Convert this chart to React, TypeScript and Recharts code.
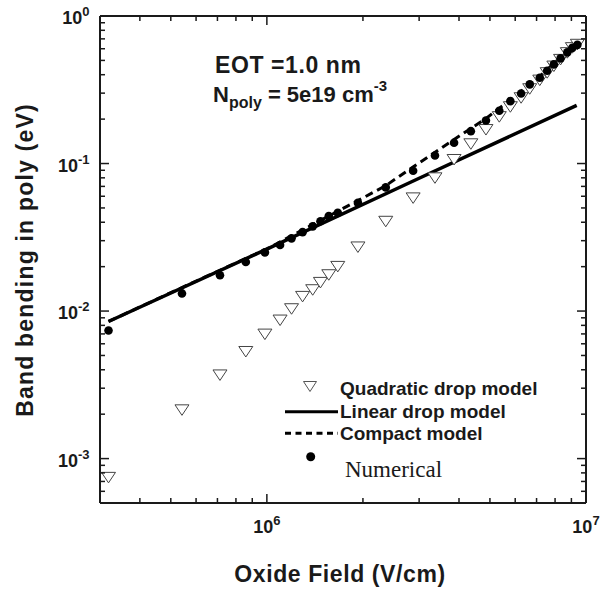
import React from 'react';
import { ComposedChart, XAxis, YAxis, Line, Scatter, Legend, Customized } from 'recharts';

// Oxide field (V/cm) of the symbol points
const fieldPoints = [
  3.19e5, 5.42e5, 7.13e5, 8.59e5, 9.86e5, 1.1e6, 1.195e6, 1.294e6, 1.392e6, 1.472e6,
  1.563e6, 1.668e6, 1.929e6, 2.358e6, 2.873e6, 3.363e6, 3.86e6, 4.357e6, 4.858e6, 5.349e6,
  5.794e6, 6.261e6, 6.663e6, 7.164e6, 7.557e6, 7.93e6, 8.324e6, 8.738e6, 9.063e6, 9.395e6,
];
// Quadratic drop model (eV)
const quadraticDrop = [
  7.46e-4, 2.14e-3, 3.69e-3, 5.32e-3, 6.98e-3, 8.69e-3, 1.037e-2, 1.257e-2, 1.395e-2, 1.564e-2,
  1.763e-2, 2.008e-2, 2.72e-2, 4.06e-2, 5.85e-2, 8.0e-2, 0.1065, 0.1361, 0.17, 0.2078,
  0.2427, 0.2793, 0.3214, 0.3677, 0.4129, 0.4577, 0.508, 0.5642, 0.61, 0.643,
];
// Numerical (eV)
const numerical = [
  7.39e-3, 1.317e-2, 1.75e-2, 2.151e-2, 2.498e-2, 2.805e-2, 3.11e-2, 3.428e-2, 3.752e-2, 4.058e-2,
  4.401e-2, 4.627e-2, 5.41e-2, 6.89e-2, 8.94e-2, 0.1133, 0.1382, 0.1657, 0.1958, 0.2279,
  0.2648, 0.2986, 0.3439, 0.3818, 0.4259, 0.47, 0.5163, 0.5671, 0.6083, 0.6375,
];
// Linear drop model
const linearField = [3.19e5, 1e6, 3e6, 9.35e6];
const linearDrop = [8.5e-3, 2.63e-2, 7.95e-2, 0.2478];
// Compact model
const compactField = [3.19e5, 5.42e5, 1e6, 1.39e6, 1.93e6, 2.36e6, 2.87e6, 3.86e6, 4.86e6, 5.79e6, 7.16e6, 8.32e6, 9.4e6];
const compactModel = [8.5e-3, 1.443e-2, 2.64e-2, 3.85e-2, 5.61e-2, 7.09e-2, 9.47e-2, 0.1455, 0.2021, 0.2698, 0.3895, 0.5245, 0.653];

const xTicks = [4e5, 5e5, 6e5, 7e5, 8e5, 9e5, 1e6, 2e6, 3e6, 4e6, 5e6, 6e6, 7e6, 8e6, 9e6, 1e7];
const yTicks = [
  6e-4, 7e-4, 8e-4, 9e-4, 1e-3, 2e-3, 3e-3, 4e-3, 5e-3, 6e-3, 7e-3, 8e-3, 9e-3,
  1e-2, 2e-2, 3e-2, 4e-2, 5e-2, 6e-2, 7e-2, 8e-2, 9e-2, 0.1, 0.2, 0.3, 0.4, 0.5, 0.6, 0.7, 0.8, 0.9, 1,
];
const xDomain = [3e5, 1e7];
const yDomain = [5e-4, 1];

const seriesNames = ['Quadratic drop model', 'Linear drop model', 'Compact model', 'Numerical'];
const xTitle = 'Oxide Field (V/cm)';
const yTitle = 'Band bending in poly (eV)';

const FONT = "Arial, 'Liberation Sans', Helvetica, sans-serif";
const SERIF = "'Times New Roman', 'Liberation Serif', Times, serif";
const INK = '#1a1a1a';

const quadData = fieldPoints.map((x, i) => ({ x, y: quadraticDrop[i] }));
const numData = fieldPoints.map((x, i) => ({ x, y: numerical[i] }));
const linData = linearField.map((x, i) => ({ x, y: linearDrop[i] }));
const compData = compactField.map((x, i) => ({ x, y: compactModel[i] }));

const isMajor = (v: number) => {
  const l = Math.log10(v);
  return Math.abs(l - Math.round(l)) < 1e-6;
};
const expOf = (v: number) => String(Math.round(Math.log10(v)));

const PowLabel = ({ x, y, exp, anchor }: any) => (
  <text x={x} y={y} textAnchor={anchor} fontFamily={FONT} fontWeight="bold" fontSize={18} fill={INK}>
    10
    <tspan dy={-8} fontSize={13}>
      {exp}
    </tspan>
  </text>
);

const BottomTick = (p: any) => {
  const { x, y, payload } = p;
  const major = isMajor(payload.value);
  return (
    <g>
      <line x1={x} x2={x} y1={y} y2={y - (major ? 9 : 5)} stroke={INK} strokeWidth={1.5} />
      {major && <PowLabel x={x} y={y + 30} exp={expOf(payload.value)} anchor="middle" />}
    </g>
  );
};
const TopTick = (p: any) => {
  const { x, y, payload } = p;
  const major = isMajor(payload.value);
  return <line x1={x} x2={x} y1={y} y2={y + (major ? 9 : 5)} stroke={INK} strokeWidth={1.5} />;
};
const LeftTick = (p: any) => {
  const { x, y, payload } = p;
  const major = isMajor(payload.value);
  return (
    <g>
      <line x1={x} x2={x + (major ? 9 : 5)} y1={y} y2={y} stroke={INK} strokeWidth={1.5} />
      {major && <PowLabel x={x - 10.5} y={y + 8} exp={expOf(payload.value)} anchor="end" />}
    </g>
  );
};
const RightTick = (p: any) => {
  const { x, y, payload } = p;
  const major = isMajor(payload.value);
  return <line x1={x} x2={x - (major ? 9 : 5)} y1={y} y2={y} stroke={INK} strokeWidth={1.5} />;
};

const Triangle = (p: any) => {
  const { cx, cy } = p;
  if (cx == null || cy == null) return null;
  return (
    <polygon
      points={`${cx - 7},${cy - 5} ${cx + 7},${cy - 5} ${cx},${cy + 5.5}`}
      fill="#fff"
      stroke="#444"
      strokeWidth={1}
    />
  );
};
const Dot = (p: any) => {
  const { cx, cy } = p;
  if (cx == null || cy == null) return null;
  return <circle cx={cx} cy={cy} r={4.3} fill="#000" />;
};

const LegendContent = () => (
  <svg width={608} height={591} style={{ position: 'absolute', left: 0, top: 0 }}>
    <polygon points="303.5,381.5 316.5,381.5 310,391.5" fill="#fff" stroke="#555" strokeWidth={1} />
    <text x={340} y={395} fontFamily={FONT} fontWeight="bold" fontSize={19} fill={INK}>
      {seriesNames[0]}
    </text>
    <line x1={285} x2={338} y1={411.7} y2={411.7} stroke="#000" strokeWidth={3} />
    <text x={340} y={418} fontFamily={FONT} fontWeight="bold" fontSize={19} fill={INK}>
      {seriesNames[1]}
    </text>
    <line x1={285} x2={338} y1={433.3} y2={433.3} stroke="#000" strokeWidth={3} strokeDasharray="6 4.5" />
    <text x={340} y={440} fontFamily={FONT} fontWeight="bold" fontSize={19} fill={INK}>
      {seriesNames[2]}
    </text>
    <circle cx={310.7} cy={456.7} r={4.5} fill="#000" />
    <text x={345} y={477} fontFamily={SERIF} fontSize={23} fill={INK}>
      {seriesNames[3]}
    </text>
  </svg>
);

const Annotations = () => (
  <g fill={INK}>
    <text x={215} y={73} fontFamily={FONT} fontWeight="bold" fontSize={23} letterSpacing={0.6}>
      EOT =1.0 nm
    </text>
    <text x={213} y={102} fontFamily={FONT} fontWeight="bold" fontSize={22}>
      N
      <tspan fontSize={16} dy={6}>
        poly
      </tspan>
      <tspan dy={-6}> = 5e19 cm</tspan>
      <tspan fontSize={15} dy={-11}>
        -3
      </tspan>
    </text>
    <text
      x={33}
      y={260}
      transform="rotate(-90, 33, 260)"
      textAnchor="middle"
      fontFamily={FONT}
      fontWeight="bold"
      fontSize={23}
      letterSpacing={1.2}
    >
      {yTitle}
    </text>
    <text x={340} y={582} textAnchor="middle" fontFamily={FONT} fontWeight="bold" fontSize={23} letterSpacing={0.6}>
      {xTitle}
    </text>
  </g>
);

const axisLineStyle = { stroke: INK, strokeWidth: 2 };

export default function App() {
  return (
    <div style={{ position: 'absolute', left: 0, top: 0, width: 608, height: 591, background: '#fff' }}>
      <ComposedChart width={608} height={591} margin={{ top: 15, right: 21, bottom: 87, left: 99 }}>
        <XAxis
          xAxisId="b"
          dataKey="x"
          type="number"
          scale="log"
          domain={xDomain}
          allowDataOverflow
          ticks={xTicks}
          interval={0}
          height={1}
          tickSize={0}
          tickMargin={0}
          tickLine={false}
          tick={<BottomTick />}
          axisLine={axisLineStyle}
        />
        <XAxis
          xAxisId="t"
          orientation="top"
          dataKey="x"
          type="number"
          scale="log"
          domain={xDomain}
          allowDataOverflow
          ticks={xTicks}
          interval={0}
          height={1}
          tickSize={0}
          tickMargin={0}
          tickLine={false}
          tick={<TopTick />}
          axisLine={axisLineStyle}
        />
        <YAxis
          yAxisId="l"
          dataKey="y"
          type="number"
          scale="log"
          domain={yDomain}
          allowDataOverflow
          ticks={yTicks}
          interval={0}
          width={1}
          tickSize={0}
          tickMargin={0}
          tickLine={false}
          tick={<LeftTick />}
          axisLine={axisLineStyle}
        />
        <YAxis
          yAxisId="r"
          orientation="right"
          dataKey="y"
          type="number"
          scale="log"
          domain={yDomain}
          allowDataOverflow
          ticks={yTicks}
          interval={0}
          width={1}
          tickSize={0}
          tickMargin={0}
          tickLine={false}
          tick={<RightTick />}
          axisLine={axisLineStyle}
        />
        <Line
          xAxisId="b"
          yAxisId="l"
          data={linData}
          dataKey="y"
          name={seriesNames[1]}
          type="linear"
          stroke="#000"
          strokeWidth={3.5}
          dot={false}
          activeDot={false}
          isAnimationActive={false}
        />
        <Line
          xAxisId="b"
          yAxisId="l"
          data={compData}
          dataKey="y"
          name={seriesNames[2]}
          type="linear"
          stroke="#000"
          strokeWidth={3}
          strokeDasharray="8 5"
          dot={false}
          activeDot={false}
          isAnimationActive={false}
        />
        <Scatter
          xAxisId="b"
          yAxisId="l"
          data={quadData}
          dataKey="y"
          name={seriesNames[0]}
          shape={<Triangle />}
          isAnimationActive={false}
        />
        <Scatter
          xAxisId="b"
          yAxisId="l"
          data={numData}
          dataKey="y"
          name={seriesNames[3]}
          shape={<Dot />}
          isAnimationActive={false}
        />
        <Customized component={Annotations} />
        <Legend
          layout="vertical"
          align="center"
          verticalAlign="middle"
          wrapperStyle={{ position: 'absolute', left: 0, top: 0, width: 608, height: 591, pointerEvents: 'none' }}
          content={<LegendContent />}
        />
      </ComposedChart>
    </div>
  );
}
